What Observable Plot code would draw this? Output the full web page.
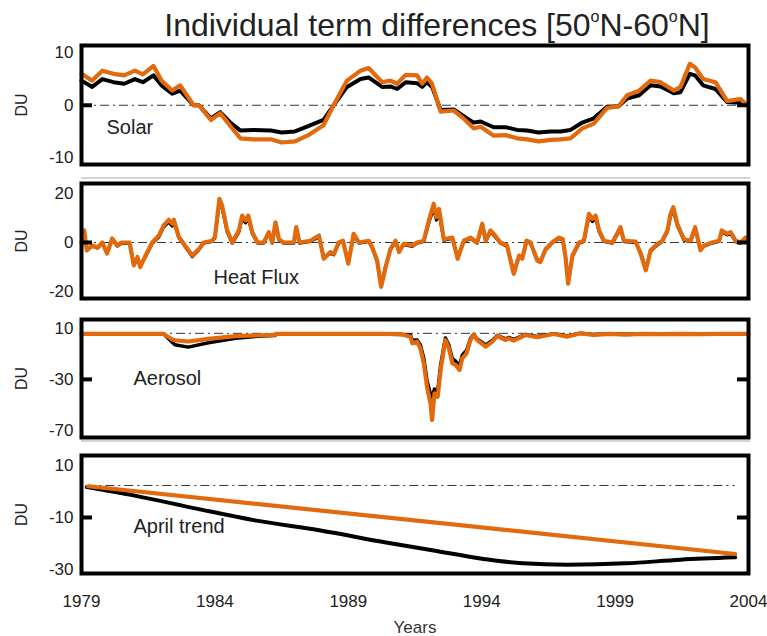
<!DOCTYPE html>
<html>
<head>
<meta charset="utf-8">
<script src="https://cdn.jsdelivr.net/npm/d3@7"></script>
<script src="https://cdn.jsdelivr.net/npm/@observablehq/plot@0.6"></script>
<style>
  html, body { margin: 0; padding: 0; background: #fff; }
  #root { position: relative; width: 767px; height: 636px; overflow: hidden; font-family: "Liberation Sans", Arial, Helvetica, sans-serif; }
  .panel { position: absolute; left: 0; }
  #title { position: absolute; left: 137px; width: 600px; top: 9px; text-align: center; font-size: 32px; line-height: 32px; color: #222; white-space: nowrap; }
  #title .deg { font-size: 16px; position: relative; top: -14px; }
  .ghost { position: absolute; left: 81px; width: 669px; height: 2px; background: #d4d4d4; }
</style>
</head>
<body>
<div id="root">
  <div id="title">Individual term differences [50<span class="deg">o</span>N-60<span class="deg">o</span>N]</div>
  <div class="ghost" style="top:177px"></div>
  <div class="ghost" style="top:440px"></div>
</div>
<script>
// ---------------- data ----------------
const xTicks = [1979, 1984, 1989, 1994, 1999, 2004];

// Solar term
const solarT = [1979.0,1979.4,1979.78,1980.2,1980.6,1981.0,1981.3,1981.7,1982.0,1982.4,1982.7,1983.2,1983.4,1983.85,1984.2,1984.6,1984.95,1985.45,1986.1,1986.5,1987.0,1987.5,1988.07,1988.45,1988.95,1989.46,1989.76,1990.27,1990.58,1990.83,1991.15,1991.58,1991.77,1991.95,1992.14,1992.46,1992.95,1993.27,1993.7,1993.96,1994.45,1994.9,1995.33,1995.7,1996.13,1996.58,1996.95,1997.33,1997.77,1998.2,1998.7,1999.13,1999.45,1999.9,2000.33,2000.7,2001.2,2001.45,2001.8,2002.0,2002.3,2002.76,2003.2,2003.7,2003.95];
const solarBlack = [4.7,3.5,5.0,4.4,4.1,5.0,4.4,5.7,3.8,2.2,2.8,0.0,0.0,-2.5,-1.3,-3.4,-4.8,-4.7,-4.8,-5.2,-5.0,-4.0,-2.8,0.0,3.5,5.0,5.3,3.5,3.6,3.1,4.4,4.2,3.5,4.4,3.5,-0.9,-0.8,-1.9,-3.3,-3.1,-4.2,-4.2,-4.7,-4.8,-5.2,-5.0,-5.0,-4.7,-3.3,-2.5,-0.3,-0.2,1.3,1.9,3.8,3.6,2.3,2.5,6.0,5.7,3.8,3.1,0.6,0.5,0.0];
const solarOrange = [6.0,4.7,6.6,6.0,5.7,6.6,5.9,7.5,4.7,2.8,3.8,0.0,0.0,-2.8,-1.5,-4.1,-6.3,-6.5,-6.5,-7.1,-6.9,-5.7,-3.8,0.0,4.7,6.6,7.1,4.4,4.7,4.1,5.8,5.7,4.1,5.3,4.1,-1.2,-1.0,-2.3,-4.4,-4.1,-5.8,-5.7,-6.3,-6.5,-6.9,-6.6,-6.5,-6.3,-4.4,-3.5,-0.5,-0.2,1.9,2.8,4.7,4.4,2.8,3.5,7.9,7.2,5.0,4.4,0.8,1.2,0.0];

// Heat flux term
const heatT = [1979.0,1979.1,1979.2,1979.4,1979.6,1979.78,1979.96,1980.15,1980.34,1980.5,1980.8,1980.96,1981.1,1981.2,1981.4,1981.65,1981.9,1982.08,1982.27,1982.4,1982.46,1982.65,1982.8,1983.15,1983.4,1983.58,1983.9,1984.0,1984.17,1984.27,1984.46,1984.65,1984.9,1985.02,1985.15,1985.25,1985.4,1985.6,1985.83,1986.02,1986.15,1986.27,1986.4,1986.58,1986.96,1987.05,1987.17,1987.58,1987.9,1988.08,1988.33,1988.46,1988.64,1988.8,1989.0,1989.2,1989.4,1989.77,1989.9,1990.08,1990.23,1990.4,1990.58,1990.77,1990.9,1991.08,1991.4,1991.58,1991.83,1992.02,1992.2,1992.3,1992.4,1992.58,1992.9,1993.1,1993.33,1993.58,1993.83,1994.02,1994.15,1994.33,1994.45,1994.7,1994.95,1995.2,1995.4,1995.52,1995.68,1995.83,1996.08,1996.2,1996.4,1996.64,1996.9,1997.04,1997.14,1997.24,1997.4,1997.65,1997.83,1998.02,1998.15,1998.27,1998.4,1998.58,1998.9,1999.2,1999.33,1999.77,1999.96,2000.15,2000.33,2000.52,2000.77,2000.96,2001.08,2001.18,2001.33,2001.58,2001.83,2002.0,2002.2,2002.33,2002.64,2002.9,2003.0,2003.2,2003.33,2003.52,2003.7,2003.9];
const heatOrange = [0.1,4.9,-3.2,-1.2,-2.0,0.0,-4.5,1.6,-1.2,0.0,0.0,-9.3,-5.9,-10.0,-5.3,0.0,2.8,6.9,9.2,7.6,9.2,2.2,0.0,-5.3,-2.6,0.0,0.7,2.2,17.7,15.0,4.9,0.0,4.9,10.9,8.9,10.9,4.2,0.0,0.0,4.2,0.0,8.2,1.3,0.0,0.0,6.2,0.0,0.7,2.8,-6.6,-3.9,-4.6,0.0,0.7,-8.6,3.5,0.0,0.7,-2.0,-7.3,-18.0,-10.0,-2.6,0.7,-3.9,-0.5,-1.2,0.0,0.7,8.9,15.7,10.2,13.6,1.3,2.0,-6.6,0.7,2.0,0.0,7.6,0.7,4.9,3.5,0.0,-1.2,-12.7,-5.3,-6.6,0.7,0.0,-7.3,-7.9,-2.6,0.0,2.0,1.3,-5.9,-16.7,-5.3,0.0,0.7,11.6,9.5,10.9,4.9,0.7,0.0,6.2,0.7,0.4,-4.6,-11.3,-3.2,-1.2,0.7,4.9,11.6,14.3,7.6,1.3,0.7,6.2,-3.2,-1.2,0.0,0.7,4.9,3.5,4.2,0.7,0.0,2.0];
const heatBlack = [0.0,4.2,-2.8,-1.6,-2.3,-0.4,-4.0,1.2,-1.5,-0.3,-0.3,-8.6,-6.4,-9.2,-5.8,-0.4,2.2,6.2,8.2,6.6,8.4,1.8,-0.4,-5.8,-3.0,-0.3,0.4,1.8,16.2,13.8,4.2,-0.4,4.2,9.8,7.9,9.6,3.6,-0.3,-0.3,3.7,-0.3,7.4,0.9,-0.3,-0.3,5.6,-0.3,0.4,2.2,-6.0,-4.4,-5.0,-0.4,0.4,-8.0,2.9,-0.3,0.4,-2.4,-7.8,-16.8,-9.6,-3.0,0.3,-3.4,-0.9,-1.6,-0.3,0.4,8.0,13.8,9.0,11.8,0.9,1.6,-6.0,0.3,1.6,-0.3,6.8,0.4,4.3,2.9,-0.3,-1.6,-11.8,-5.8,-6.0,0.3,-0.3,-6.8,-7.4,-3.0,-0.3,1.6,0.9,-5.4,-15.4,-5.8,-0.3,0.4,10.6,8.4,9.8,4.3,0.4,-0.3,5.6,0.3,0.0,-4.2,-10.4,-3.6,-1.6,0.4,4.3,10.6,13.0,6.8,0.9,0.3,5.6,-2.8,-1.6,-0.3,0.4,4.3,3.0,3.6,0.3,-0.3,1.6];

// Aerosol term
const aeroT = [1979.0,1982.08,1982.4,1982.5,1983.0,1983.76,1984.77,1985.77,1986.25,1986.3,1990.2,1991.0,1991.33,1991.4,1991.58,1991.7,1991.83,1991.95,1992.08,1992.14,1992.23,1992.35,1992.46,1992.64,1992.77,1992.9,1993.02,1993.17,1993.27,1993.43,1993.58,1993.7,1993.83,1994.15,1994.4,1994.58,1994.9,1995.0,1995.2,1995.64,1996.08,1996.7,1997.2,1997.7,1998.2,1998.8,1999.4,2000.0,2000.8,2001.5,2002.3,2003.0,2004.0];
const aeroOrange = [5.5,5.5,1.2,0.6,-0.4,1.7,3.8,4.5,4.8,5.5,5.5,5.3,3.4,-1.8,-0.5,-5.7,-17.4,-35.6,-48.7,-61.7,-40.9,-43.5,-22.6,0.8,-5.7,-17.4,-18.7,-22.6,-13.5,-9.6,0.8,4.7,0.8,-4.4,-0.5,3.9,0.8,2.1,0.3,4.7,2.9,5.5,3.4,6.0,4.8,5.6,5.0,5.6,5.3,5.6,5.4,5.6,5.5];
const aeroBlack = [5.5,5.5,-1.0,-3.0,-4.8,-1.4,2.2,4.0,4.3,5.5,5.5,5.1,4.6,0.5,0.8,-3.0,-13.5,-31.0,-41.5,-44.0,-37.5,-39.5,-19.0,2.4,-3.4,-13.8,-15.8,-19.0,-11.0,-7.4,2.0,5.2,1.6,-3.0,0.4,4.4,1.6,2.8,1.2,5.0,3.6,5.6,3.9,6.0,5.0,5.6,5.2,5.6,5.4,5.6,5.5,5.6,5.5];

// April trend
const trendT = [1979.2,1980.95,1983.35,1985.56,1987.96,1990.36,1992.2,1994.07,1995.54,1997.2,1999.4,2001.45,2003.5];
const trendBlack = [1.7,-1.5,-6.7,-11.2,-15.0,-19.5,-22.7,-25.9,-27.6,-28.1,-27.6,-26.2,-25.3];
const trendOrangeT = [1979.25, 2003.5];
const trendOrange = [2.0, -24.0];

// panel scales / ticks / labels
const panels = [
  {name: "Solar",       top: 40,  frameH: 119, mb: 6,  yDomain: [-11.3, 11.4], yTicks: [10, 0, -10],   markTicks: [0],   ref: 0,
   t: solarT, black: solarBlack, orangeT: solarT, orange: solarOrange, lw: [4, 4.2], labelDx: 25, labelDy: 23, refFull: true, curve: "linear"},
  {name: "Heat Flux",   top: 178, frameH: 115, mb: 6,  yDomain: [-22.7, 23.9], yTicks: [20, 0, -20],   markTicks: [0],   ref: 0,
   t: heatT, black: heatBlack, orangeT: heatT, orange: heatOrange, lw: [3, 4.2], labelDx: 132, labelDy: 37, refFull: true, curve: "linear"},
  {name: "Aerosol",     top: 314, frameH: 118, mb: 6,  yDomain: [-75.4, 16.8], yTicks: [10, -30, -70], markTicks: [-30], ref: 6,
   t: aeroT, black: aeroBlack, orangeT: aeroT, orange: aeroOrange, lw: [3.5, 4.2], labelDx: 52, labelDy: 0, refFull: true, curve: "linear"},
  {name: "April trend", top: 450, frameH: 118, mb: 63, yDomain: [-31.5, 13.8], yTicks: [10, -10, -30], markTicks: [-10], ref: 2.3,
   t: trendT, black: trendBlack, orangeT: trendOrangeT, orange: trendOrange, lw: [4, 4.2], labelDx: 52, labelDy: 12, refFull: false, curve: "monotone-x"}
];

// ---------------- drawing ----------------
const W = 767, ML = 81, MR = 19, MT = 5;
const ORANGE = "#e2690c";
const root = document.getElementById("root");
const fmt = d => String(d);

panels.forEach((p, i) => {
  const blackData = p.t.map((t, k) => ({t, v: p.black[k]}));
  const orangeData = p.orangeT.map((t, k) => ({t, v: p.orange[k]}));
  const isLast = i === panels.length - 1;
  const innerW = W - ML - MR;
  const refOpts = {stroke: "#333", strokeWidth: 1, strokeDasharray: "9,4,2,4"};
  if (!p.refFull) { refOpts.x1 = d3.min(p.t); refOpts.x2 = d3.max(p.t); }

  const marks = [
    Plot.ruleY([p.ref], refOpts),
    Plot.line(blackData, {x: "t", y: "v", stroke: "black", strokeWidth: p.lw[0], strokeLinejoin: "round", curve: p.curve}),
    Plot.line(orangeData, {x: "t", y: "v", stroke: ORANGE, strokeWidth: p.lw[1], strokeLinejoin: "round"}),
    Plot.tickY(p.markTicks, {y: d => d, stroke: "black", strokeWidth: 4, insetRight: innerW - 11}),
    Plot.tickY(p.markTicks, {y: d => d, stroke: "black", strokeWidth: 4, insetLeft: innerW - 11}),
    Plot.frame({stroke: "black", strokeWidth: 4}),
    Plot.axisY(p.yTicks, {tickSize: 0, tickPadding: 8, tickFormat: fmt, label: null, fontSize: 17, fill: "#222"}),
    Plot.text([p.name], {frameAnchor: "left", dx: p.labelDx, dy: p.labelDy, fontSize: 20, fill: "#222"}),
    Plot.text(["DU"], {frameAnchor: "left", dx: -60, rotate: -90, textAnchor: "middle", fontSize: 16, fill: "#222"})
  ];
  if (isLast) {
    marks.push(Plot.axisX(xTicks, {tickSize: 0, tickPadding: 21, tickFormat: fmt, label: null, fontSize: 17, fill: "#222"}));
    marks.push(Plot.text(["Years"], {frameAnchor: "bottom", dy: 54, lineAnchor: "middle", fontSize: 17, fill: "#333"}));
  }

  const chart = Plot.plot({
    width: W,
    height: MT + p.frameH + p.mb,
    marginLeft: ML, marginRight: MR, marginTop: MT, marginBottom: p.mb,
    x: {domain: [1979, 2004], axis: null},
    y: {domain: p.yDomain, axis: null},
    style: {fontFamily: "Liberation Sans, Arial, Helvetica, sans-serif", fontSize: "17px", background: "transparent", overflow: "visible"},
    marks
  });
  chart.classList.add("panel");
  chart.style.top = p.top + "px";
  root.appendChild(chart);
});
</script>
</body>
</html>
